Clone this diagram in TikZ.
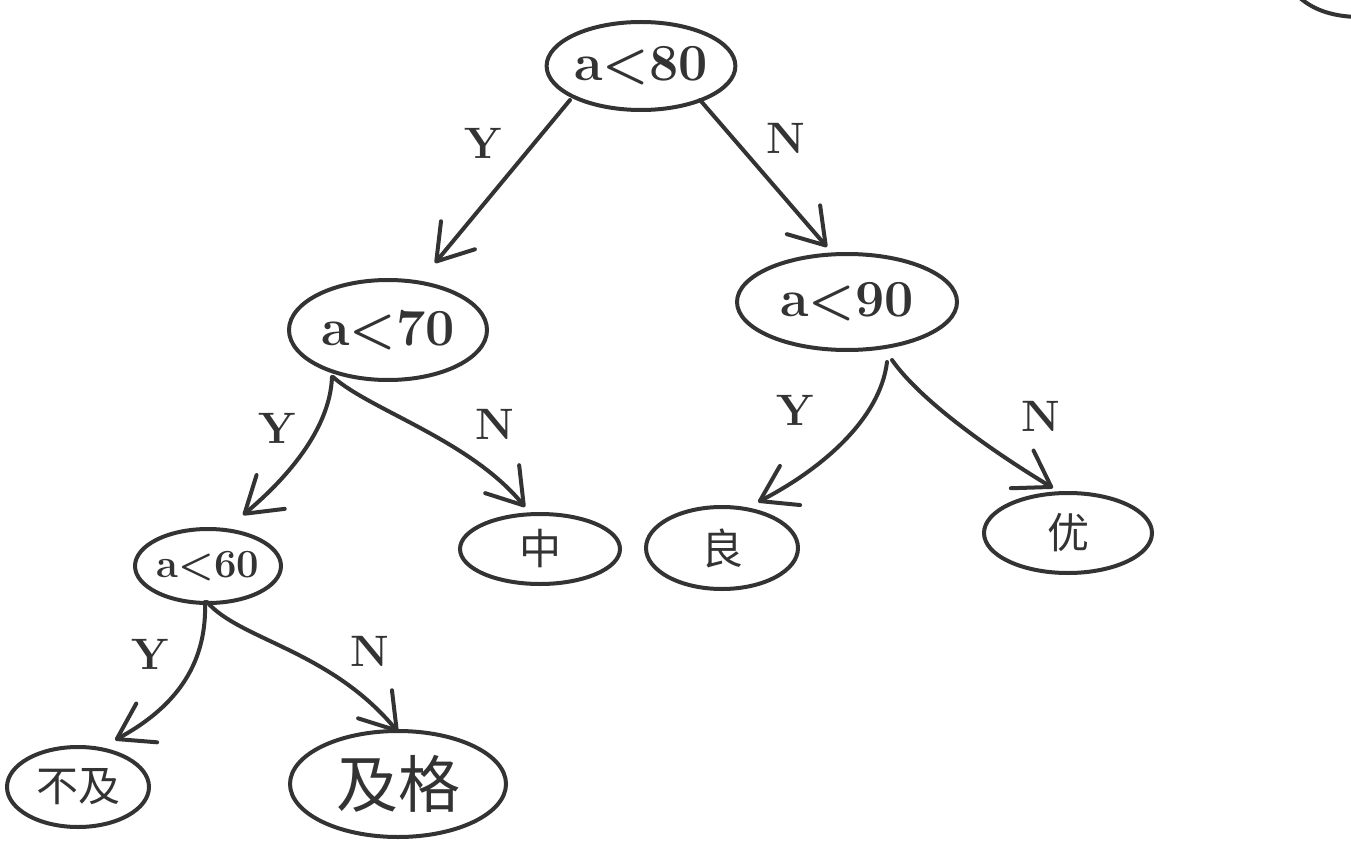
\documentclass[tikz,border=0pt]{standalone}
\usepackage{fontspec}
\newfontfamily\cjk{Noto Sans CJK SC}
\usetikzlibrary{arrows.meta,shapes.geometric,calc}
\definecolor{ink}{HTML}{333333}
\tikzset{
  ell/.style={ellipse, draw=ink, line width=4pt, inner sep=0pt, text=ink},
  conn/.style={draw=ink, line width=4pt, line cap=round, line join=round,
    -{Straight Barb[length=34pt,width=44pt,round]}},
  lab/.style={text=ink, inner sep=0pt, font=\bfseries\fontsize{44}{46}\selectfont},
  latin/.style={font=\bfseries\fontsize{52}{54}\selectfont},
  han/.style={font=\cjk\fontsize{42}{44}\selectfont}
}
\begin{document}
\begin{tikzpicture}[x=1pt,y=-1pt]
\fill[white] (0,0) rectangle (1351,858);
\useasboundingbox (0,0) rectangle (1351,858);

% nodes
\node[ell, latin, minimum width=182pt, minimum height=88pt] (a80) at (641,66) {a<80};
\node[ell, latin, minimum width=198pt, minimum height=100pt] (a70) at (388,330) {a<70};
\node[ell, latin, minimum width=220pt, minimum height=96pt] (a90) at (847,302) {a<90};
\node[ell, font=\bfseries\fontsize{40}{42}\selectfont, minimum width=146pt, minimum height=74pt] (a60) at (208,566) {a<60};
\node[ell, han, minimum width=160pt, minimum height=70pt] (zhong) at (540,549) {中};
\node[ell, han, minimum width=152pt, minimum height=82pt] (liang) at (722,548) {良};
\node[ell, han, minimum width=168pt, minimum height=80pt] (you) at (1068,533) {优};
\node[ell, han, minimum width=142pt, minimum height=80pt] (bj) at (78,787) {不及};
\node[ell, font=\cjk\fontsize{62}{64}\selectfont, minimum width=216pt, minimum height=106pt] (jg) at (398,784) {及格};

% partial shape at the top right corner
\draw[ink, line width=4pt, line cap=round] (1300,-2) .. controls (1313,9) and (1330,16) .. (1356,17);

% connectors
\draw[conn] ($(a80)+(-71,34)$) -- ($(a70)+(47,-67)$);
\draw[conn] ($(a80)+(59,34)$) -- ($(a90)+(-20,-55)$);
\draw[conn] ($(a70)+(-56,47)$) .. controls (330,430) and (285,480) .. ($(a60)+(35,-51)$);
\draw[conn] ($(a70)+(-55,47)$) .. controls (370,410) and (470,440) .. ($(zhong)+(-15,-42)$);
\draw[conn] ($(a90)+(40,60)$) .. controls (880,420) and (820,470) .. ($(liang)+(36,-46)$);
\draw[conn] ($(a90)+(45,58)$) .. controls (920,400) and (990,450) .. ($(you)+(-15,-45)$);
\draw[conn] ($(a60)+(-3,36)$) .. controls (207,660) and (180,705) .. ($(bj)+(37,-47)$);
\draw[conn] ($(a60)+(-1,36)$) .. controls (240,640) and (330,650) .. ($(jg)+(0,-52)$);

% labels
\node[lab] (y1) at (483,143) {Y};
\node[lab] (n1) at (786,138) {N};
\node[lab] (y2) at (277,428) {Y};
\node[lab] (n2) at (495,424) {N};
\node[lab] (y3) at (795,410) {Y};
\node[lab] (n3) at (1041,416) {N};
\node[lab] (y4) at (150,654) {Y};
\node[lab] (n4) at (370,651) {N};
\end{tikzpicture}
\end{document}
